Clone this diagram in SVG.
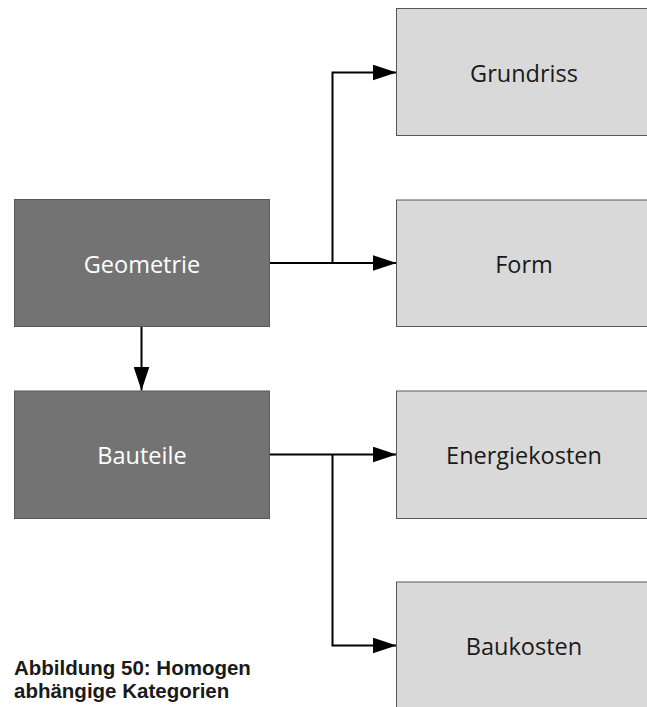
<svg xmlns="http://www.w3.org/2000/svg" width="647" height="707" viewBox="0 0 647 707">
  <style>
    .dark { fill: #737373; stroke: #595959; stroke-width: 1; }
    .light { fill: #d9d9d9; stroke: #595959; stroke-width: 1; }
    .lbl { font-family: "Open Sans", "Liberation Sans", sans-serif; font-size: 23.5px; text-anchor: middle; }
    .lbl-dark { fill: #ffffff; }
    .lbl-light { fill: #1a1a1a; }
    .wire { fill: none; stroke: #000000; stroke-width: 2; }
    .caption { font-family: "Liberation Sans", Arial, sans-serif; font-size: 20.5px; font-weight: bold; fill: #1a1a1a; }
  </style>
  <defs>
    <marker id="arrow" markerWidth="24" markerHeight="16" refX="24" refY="8" orient="auto" markerUnits="userSpaceOnUse">
      <path d="M0,0 L24,8 L0,16 Z" fill="#000000"/>
    </marker>
  </defs>

  <rect width="647" height="707" fill="#ffffff"/>

  <g id="connectors">
    <!-- Geometrie to Form, with branch up to Grundriss -->
    <path class="wire" d="M269.5,263 L396.5,263" marker-end="url(#arrow)"/>
    <path class="wire" d="M332.5,263 L332.5,72.5 L396.5,72.5" marker-end="url(#arrow)"/>
    <!-- Geometrie to Bauteile -->
    <path class="wire" d="M141.5,327 L141.5,390.5" marker-end="url(#arrow)"/>
    <!-- Bauteile to Energiekosten, with branch down to Baukosten -->
    <path class="wire" d="M269.5,454.5 L396.5,454.5" marker-end="url(#arrow)"/>
    <path class="wire" d="M332.5,454.5 L332.5,645.5 L396.5,645.5" marker-end="url(#arrow)"/>
  </g>

  <g id="node-geometrie">
    <rect class="dark" x="14.5" y="199.5" width="255" height="127"/>
    <text class="lbl lbl-dark" x="142" y="272.5">Geometrie</text>
  </g>
  <g id="node-bauteile">
    <rect class="dark" x="14.5" y="391" width="255" height="127.5"/>
    <text class="lbl lbl-dark" x="142" y="464">Bauteile</text>
  </g>
  <g id="node-grundriss">
    <rect class="light" x="396.5" y="8.5" width="255" height="127"/>
    <text class="lbl lbl-light" x="524" y="81.5">Grundriss</text>
  </g>
  <g id="node-form">
    <rect class="light" x="396.5" y="200" width="255" height="126.5"/>
    <text class="lbl lbl-light" x="524" y="272.5">Form</text>
  </g>
  <g id="node-energiekosten">
    <rect class="light" x="396.5" y="391" width="255" height="127.5"/>
    <text class="lbl lbl-light" x="524" y="464">Energiekosten</text>
  </g>
  <g id="node-baukosten">
    <rect class="light" x="396.5" y="582" width="255" height="130"/>
    <text class="lbl lbl-light" x="524" y="655">Baukosten</text>
  </g>

  <g id="caption">
    <text class="caption" x="14" y="675">Abbildung 50: Homogen</text>
    <text class="caption" x="14" y="698">abhängige Kategorien</text>
  </g>
</svg>
